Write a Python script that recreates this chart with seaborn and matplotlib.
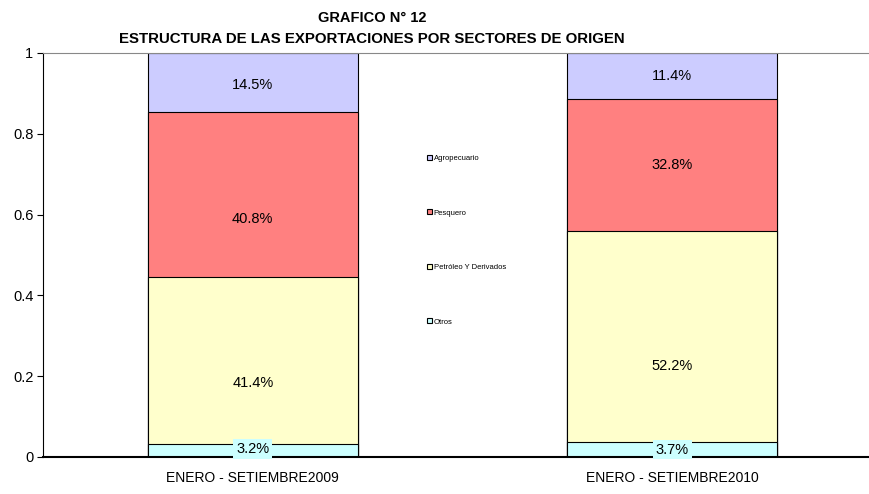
import pandas as pd
import seaborn as sns
import matplotlib.pyplot as plt

periods = ['ENERO - SETIEMBRE2009', 'ENERO - SETIEMBRE2010']
sectors = ['Otros', 'Petróleo Y Derivados', 'Pesquero', 'Agropecuario']
otros = [3.2, 3.7]
petroleo = [41.4, 52.2]
pesquero = [40.8, 32.8]
agro = [14.5, 11.4]
colors = ['#CCFFFF', '#FFFFCC', '#FF8080', '#CCCCFF']

# label nudges (fraction of axis) to mimic the original placement
label_shift = [[0.004, -0.057, -0.061, -0.006], [0.0, -0.072, 0.0, -0.001]]

sns.set_style('white')
plt.rcParams['font.family'] = ['Liberation Sans', 'DejaVu Sans']
plt.rcParams['text.color'] = 'black'
plt.rcParams['xtick.color'] = 'black'
plt.rcParams['ytick.color'] = 'black'

df = pd.DataFrame({'periodo': periods, 'Otros': otros, 'Petróleo Y Derivados': petroleo,
                   'Pesquero': pesquero, 'Agropecuario': agro})
shares = df[sectors].div(100)
cum = shares.cumsum(axis=1)

fig = plt.figure(figsize=(8.69, 4.94), dpi=100)
ax = fig.add_axes([0.0495, 0.0749, 0.9655, 0.818])

# draw cumulative heights from the top layer down so each layer covers the one above
for sector, col in reversed(list(zip(sectors, colors))):
    sns.barplot(x=df['periodo'], y=cum[sector], color=col, width=0.5, edgecolor='black',
                linewidth=0.8, saturation=1, ax=ax, label=sector)

for i in range(len(periods)):
    for j, sector in enumerate(sectors):
        y = cum[sector][i] - shares[sector][i] / 2 + label_shift[i][j]
        txt = f'{shares[sector][i] * 100:.1f}%'
        if sector == 'Otros':
            ax.text(i, y, txt, ha='center', va='center', fontsize=10.5,
                    bbox=dict(facecolor='#CCFFFF', edgecolor='none', pad=2))
        else:
            ax.text(i, y, txt, ha='center', va='center', fontsize=10.5)

ax.set_xlim(-0.5, 1.5)
ax.set_ylim(0, 1)
ax.set_yticks([0, 0.2, 0.4, 0.6, 0.8, 1])
ax.set_yticklabels(['0', '0.2', '0.4', '0.6', '0.8', '1'], fontsize=10.5)
ax.set_xticks([0, 1])
ax.set_xticklabels(periods, fontsize=10)
ax.set_xticks([-0.5, 0.5, 1.5], minor=True)
ax.tick_params(axis='x', which='major', length=0, pad=10)
ax.tick_params(axis='x', which='minor', length=4, direction='out', color='black')
ax.tick_params(axis='y', length=4, direction='out', color='black', left=True, pad=3)
ax.set_xlabel('')
ax.set_ylabel('')

for side in ['left', 'bottom']:
    ax.spines[side].set_color('black')
ax.spines['left'].set_linewidth(0.8)
ax.spines['bottom'].set_linewidth(1.5)
ax.spines['top'].set_color('#888888')
ax.spines['right'].set_visible(False)

handles, labels = ax.get_legend_handles_labels()
order = [labels.index(s) for s in ['Agropecuario', 'Pesquero', 'Petróleo Y Derivados', 'Otros']]
leg = ax.legend([handles[k] for k in order], [labels[k] for k in order],
                loc='upper left', bbox_to_anchor=(0.454, 0.755), frameon=False,
                fontsize=5.5, handlelength=0.6, handleheight=0.6, handletextpad=0.3,
                labelspacing=6.2, borderaxespad=0)

fig.text(0.428, 0.964, 'GRAFICO N° 12', ha='center', va='center', fontsize=10.5, fontweight='bold')
fig.text(0.428, 0.922, 'ESTRUCTURA DE LAS EXPORTACIONES POR SECTORES DE ORIGEN',
         ha='center', va='center', fontsize=10.8, fontweight='bold')

plt.savefig('out.png', dpi=100)
